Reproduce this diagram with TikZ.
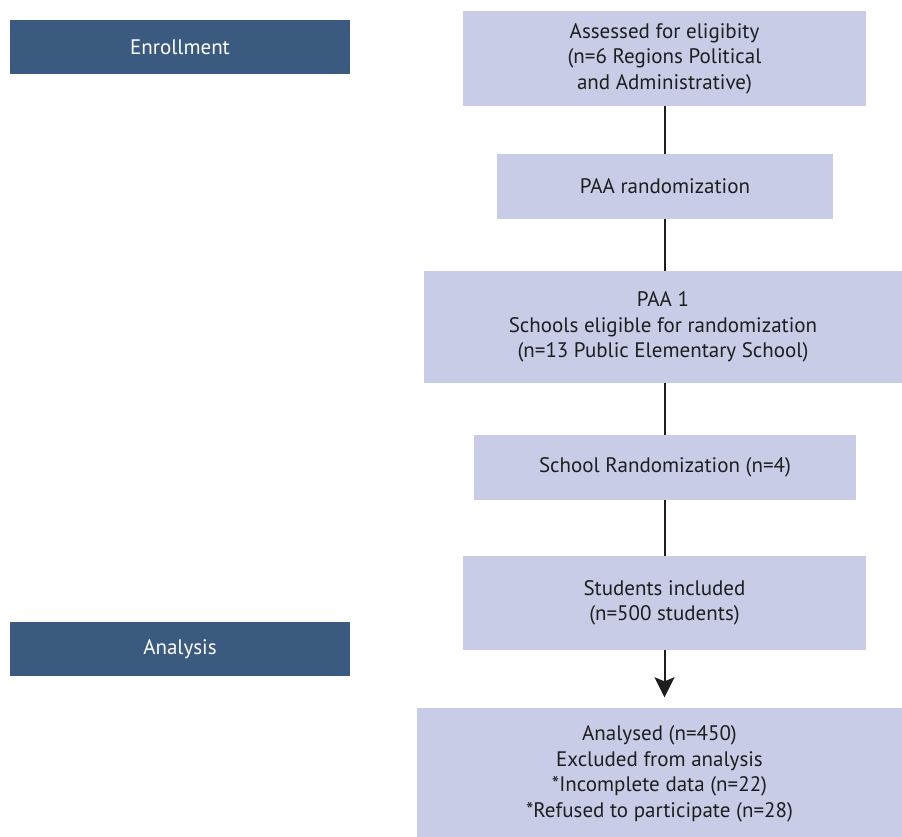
\documentclass[tikz,border=0pt]{standalone}
\usepackage{fontspec}
\setmainfont{PT Sans}
\usetikzlibrary{arrows.meta}

\definecolor{headblue}{HTML}{3B5A80}
\definecolor{stepfill}{HTML}{C8CCE6}
\definecolor{inkgray}{HTML}{1E1E1E}

\tikzset{
  phase/.style={fill=headblue,text=white,minimum width=340pt,minimum height=54pt,inner sep=0pt},
  stage/.style={fill=stepfill,text=inkgray,align=center,inner sep=0pt},
  link/.style={line width=2pt,draw=inkgray}
}

\begin{document}
\begin{tikzpicture}[x=1pt,y=-1pt,font=\fontsize{21}{25.5}\selectfont]
    \useasboundingbox (0,0) rectangle (902,837);
    \node[phase] (enroll) at (180,47) {Enrollment};
    \node[phase] (analysis) at (180,649) {Analysis};

    \node[stage,minimum width=403pt,minimum height=95pt] (elig) at (664.5,58.5)
      {Assessed for eligibity\\(n=6 Regions Political\\and Administrative)};
    \node[stage,minimum width=336pt,minimum height=65pt] (paa) at (665,186.5)
      {PAA randomization};
    \node[stage,minimum width=478pt,minimum height=112pt] (paa1) at (663,327)
      {PAA 1\\Schools eligible for randomization\\(n=13 Public Elementary School)};
    \node[stage,minimum width=382pt,minimum height=65pt] (school) at (665,467.5)
      {School Randomization (n=4)};
    \node[stage,minimum width=403pt,minimum height=94pt] (students) at (664.5,603)
      {Students included\\(n=500 students)};
    \node[stage,minimum width=485pt,minimum height=133pt] (analysed) at (659.5,774)
      {Analysed (n=450)\\Excluded from analysis\\*Incomplete data (n=22)\\*Refused to participate (n=28)};

    \draw[link] (elig) -- (elig |- paa.north);
    \draw[link] (paa) -- (paa |- paa1.north);
    \draw[link] (paa |- paa1.south) -- (paa |- school.north);
    \draw[link] (school) -- (school |- students.north);
    \draw[link,-{Stealth[length=20pt,width=20pt,inset=4pt]},shorten >=10pt]
      (students.south) -- (students.south |- analysed.north);
\end{tikzpicture}
\end{document}
